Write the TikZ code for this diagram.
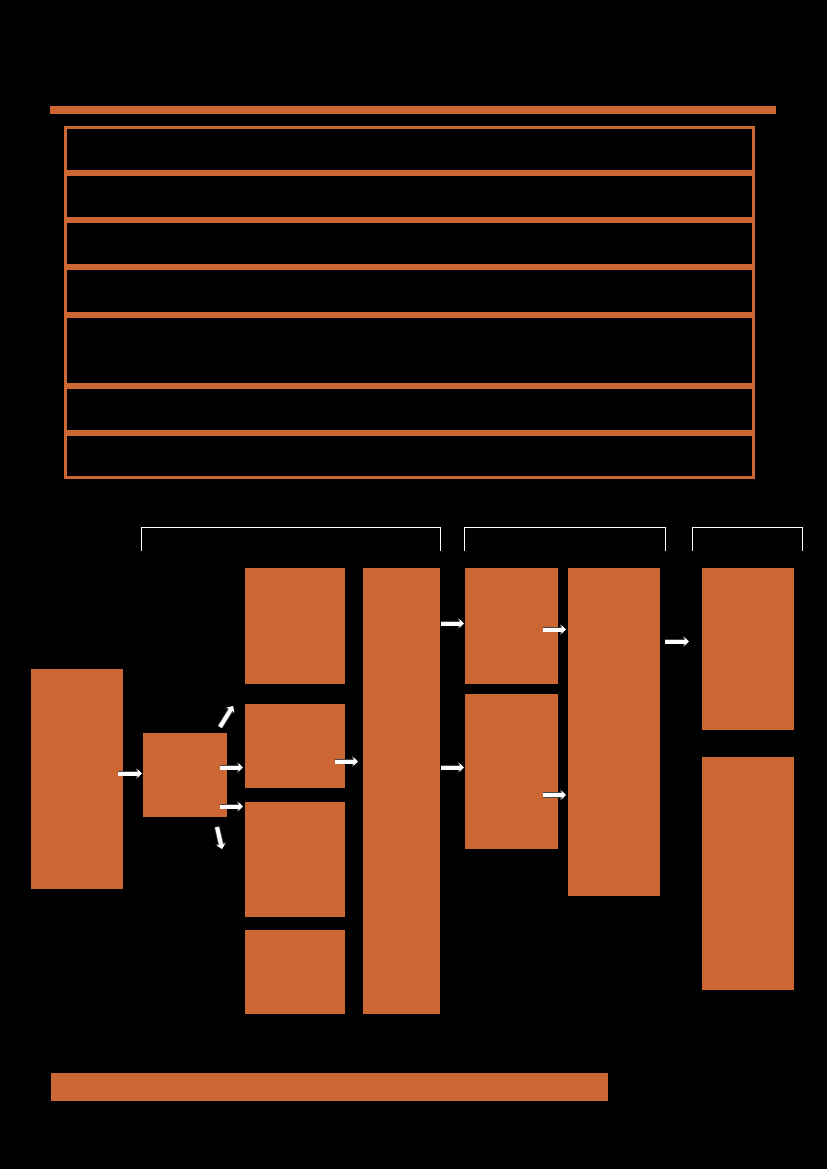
\documentclass[tikz,border=0pt]{standalone}
\usetikzlibrary{arrows.meta,calc}
\definecolor{rust}{RGB}{204,102,51}
\definecolor{edgegray}{RGB}{70,70,70}
\tikzset{
  box/.style={rectangle, fill=rust, inner sep=0pt, outer sep=0pt, anchor=north west},
  rowbox/.style={rectangle, draw=rust, line width=3pt, inner sep=0pt, outer sep=0pt, anchor=north west, minimum width=688pt},
  blockarr/.style={line width=4pt, white, -{Triangle[length=4.5pt,width=8.5pt]},
     preaction={draw=edgegray, line width=5.6pt, -{Triangle[length=6pt,width=11pt]}}},
  bracket/.style={draw=white, line width=0.9pt}
}
\newcommand{\bx}[5]{\node[box, minimum width=#4pt, minimum height=#5pt] (#1) at (#2,#3) {};}
\begin{document}
\begin{tikzpicture}[x=1pt,y=-1pt]
\fill[black] (0,0) rectangle (827,1169);
\useasboundingbox (0,0) rectangle (827,1169);
% title bar
\node[box, minimum width=726pt, minimum height=8pt] (titlebar) at (50,106) {};
% table rows
\node[rowbox, minimum height=44pt] (r1) at (65.5,127.5) {};
\node[rowbox, minimum height=44pt] (r2) at (65.5,174.5) {};
\node[rowbox, minimum height=44pt] (r3) at (65.5,221.5) {};
\node[rowbox, minimum height=45pt] (r4) at (65.5,268.5) {};
\node[rowbox, minimum height=68pt] (r5) at (65.5,316.5) {};
\node[rowbox, minimum height=44pt] (r6) at (65.5,387.5) {};
\node[rowbox, minimum height=43pt] (r7) at (65.5,434.5) {};
% brackets
\draw[bracket] (141,551) -- (141,527.5) -- (440.5,527.5) -- (440.5,551);
\draw[bracket] (464.5,551) -- (464.5,527.5) -- (665.5,527.5) -- (665.5,551);
\draw[bracket] (692.5,551) -- (692.5,527.5) -- (802.5,527.5) -- (802.5,551);
% boxes
\bx{A}{31}{669}{92}{220}
\bx{B}{143}{733}{84}{84}
\bx{C1}{245}{568}{100}{116}
\bx{C2}{245}{704}{100}{84}
\bx{C3}{245}{802}{100}{115}
\bx{C4}{245}{930}{100}{84}
\bx{D}{363}{568}{77}{446}
\bx{E1}{465}{568}{93}{116}
\bx{E2}{465}{694}{93}{155}
\bx{F}{568}{568}{92}{328}
\bx{G1}{702}{568}{92}{162}
\bx{G2}{702}{757}{92}{233}
% bottom bar
\node[box, minimum width=557pt, minimum height=28pt] (footbar) at (51,1073) {};
% arrows
\draw[blockarr] ($(A.east |- 0,773.5)+(-5,0)$) -- ($(B.west |- 0,773.5)+(-1,0)$);
\draw[blockarr] ($(B.east |- 0,767.5)+(-7,0)$) -- ($(C2.west |- 0,767.5)+(-2,0)$);
\draw[blockarr] ($(B.east |- 0,806.5)+(-7,0)$) -- ($(C3.west |- 0,806.5)+(-2,0)$);
\draw[blockarr] ($(B.north east)+(-7,-6)$) -- ($(C2.north west)+(-12,2)$);
\draw[blockarr] ($(B.south east)+(-10,10)$) -- ($(B.south east)+(-5,32)$);
\draw[blockarr] ($(C2.east |- 0,761.5)+(-10,0)$) -- ($(D.west |- 0,761.5)+(-5,0)$);
\draw[blockarr] ($(D.east |- 0,623.5)+(1,0)$) -- ($(E1.west |- 0,623.5)+(-1,0)$);
\draw[blockarr] ($(D.east |- 0,767.5)+(1,0)$) -- ($(E2.west |- 0,767.5)+(-1,0)$);
\draw[blockarr] ($(E1.east |- 0,629.5)+(-15,0)$) -- ($(F.west |- 0,629.5)+(-2,0)$);
\draw[blockarr] ($(E2.east |- 0,795)+(-15,0)$) -- ($(F.west |- 0,795)+(-2,0)$);
\draw[blockarr] ($(F.east |- 0,641.5)+(5,0)$) -- ($(G1.west |- 0,641.5)+(-13,0)$);
\end{tikzpicture}
\end{document}
